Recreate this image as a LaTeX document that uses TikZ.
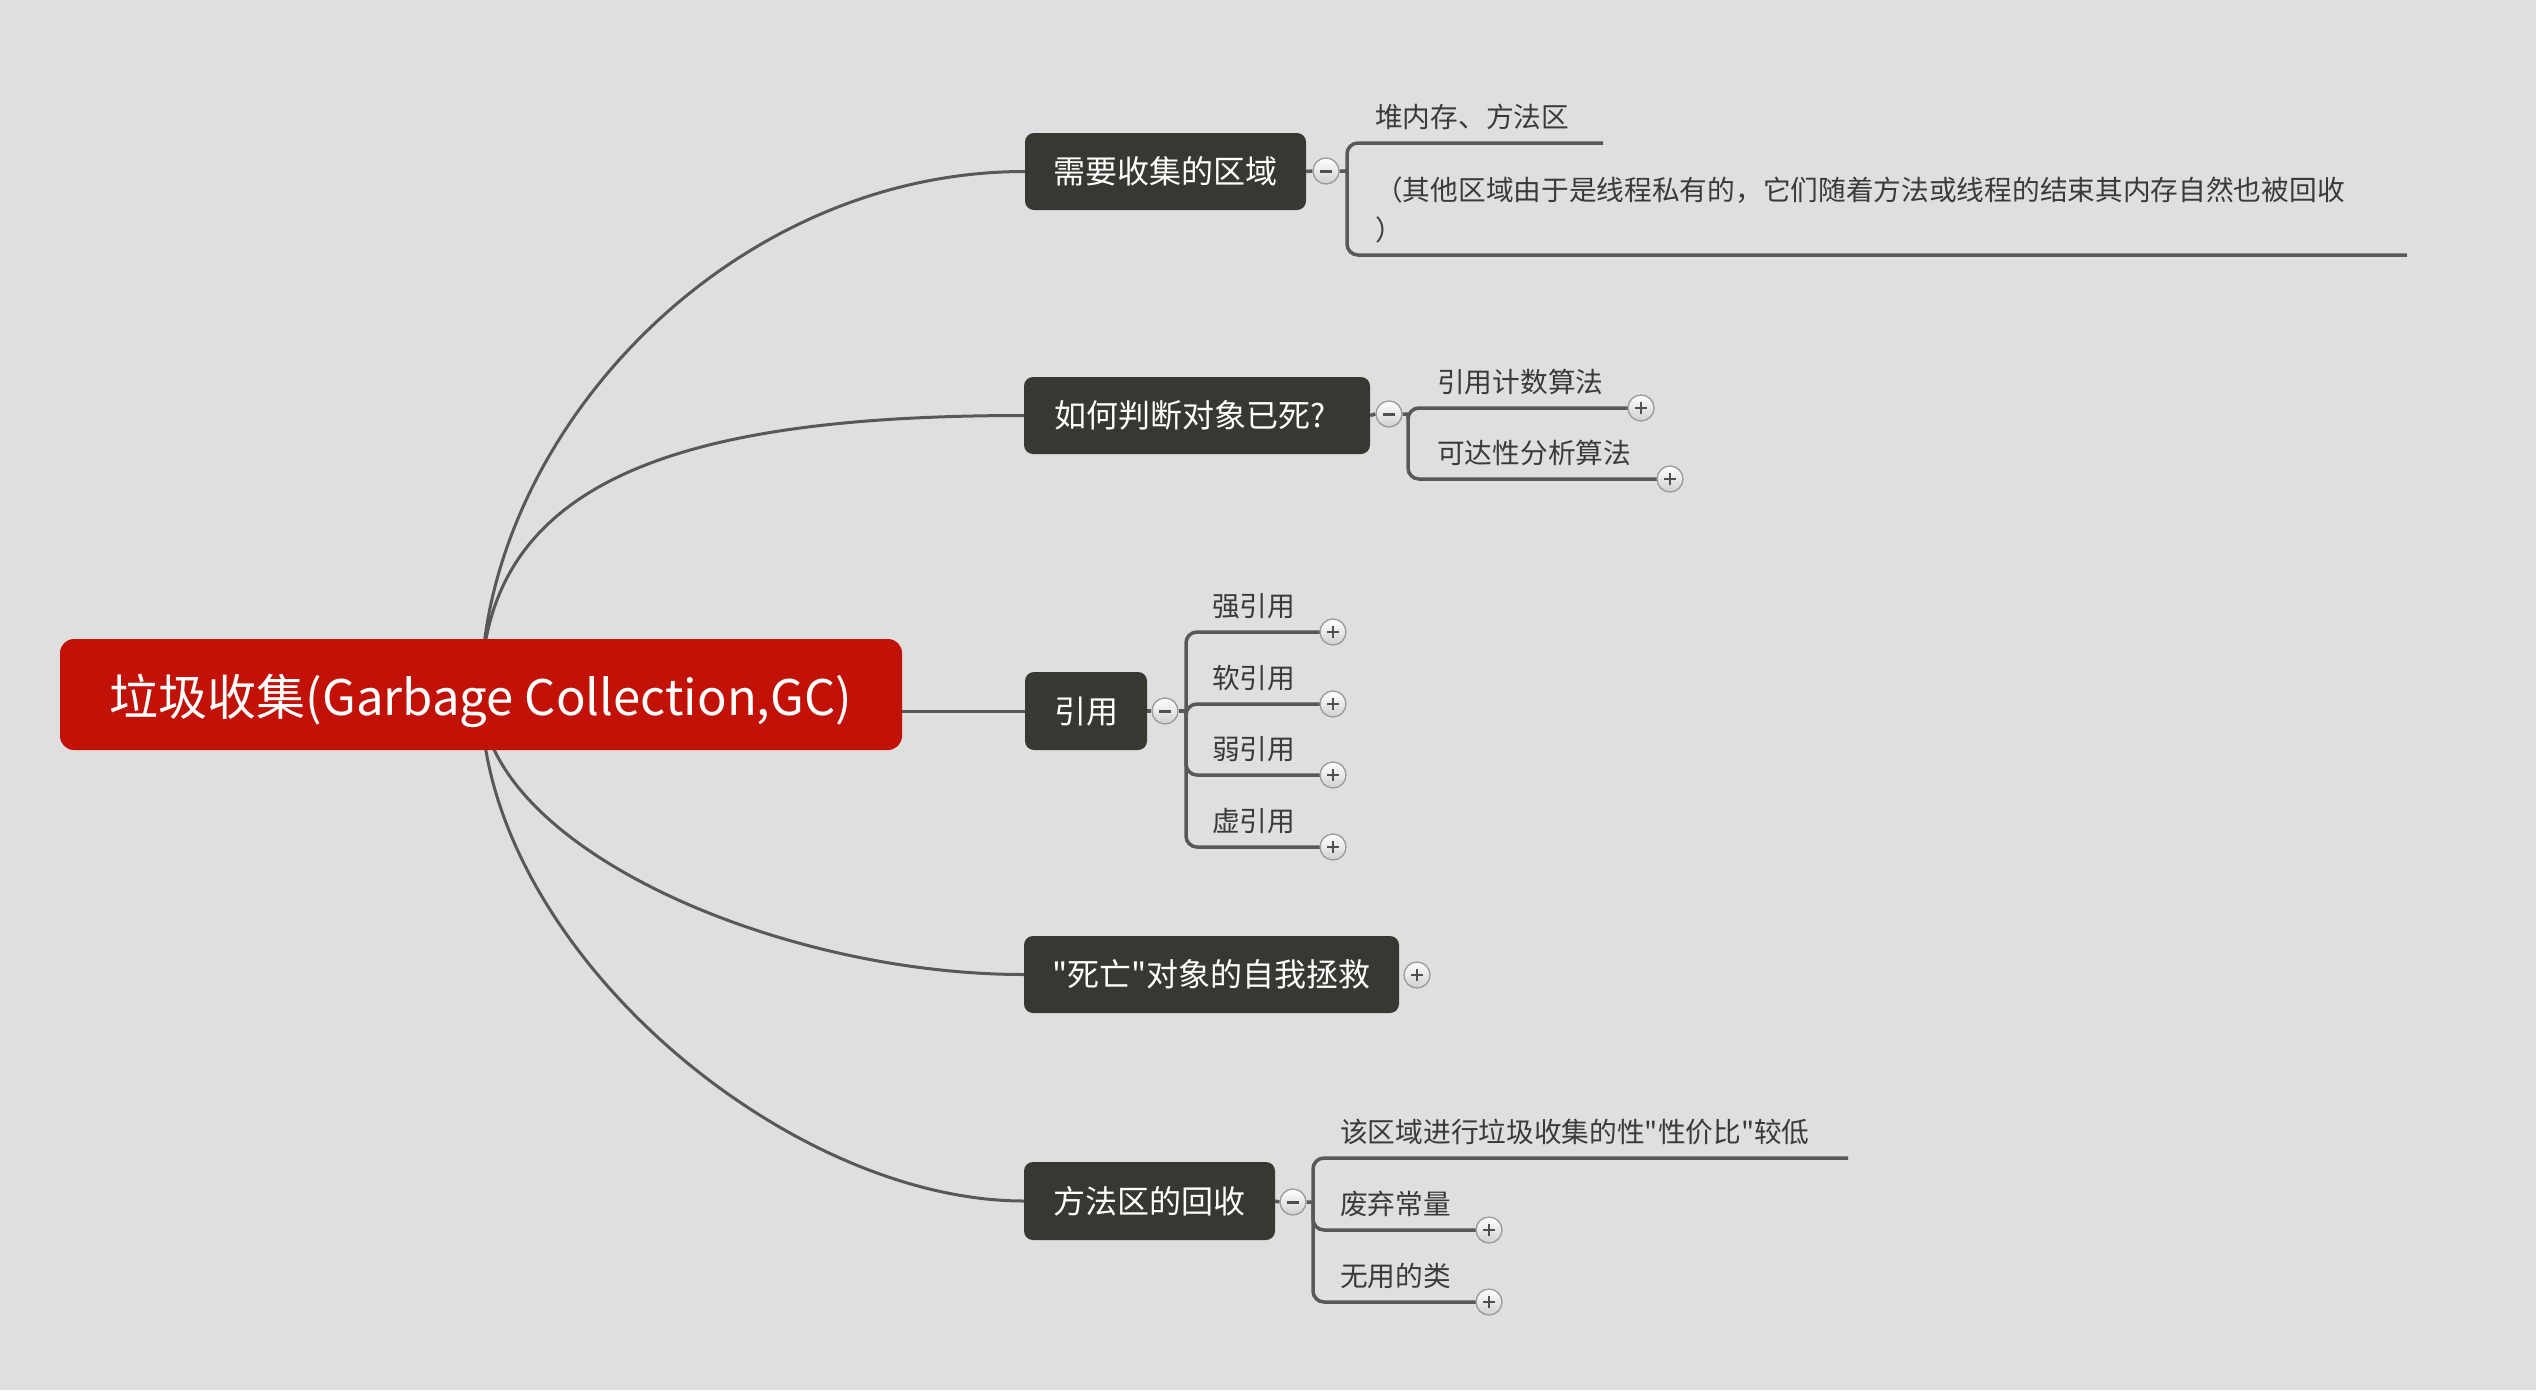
\documentclass[tikz,border=0pt]{standalone}
\usepackage{fontspec}
\newfontfamily\cjkface{Noto Sans CJK SC}
\usetikzlibrary{calc}
\definecolor{bgc}{HTML}{DFDFDF}
\definecolor{rootc}{HTML}{C21107}
\definecolor{branchc}{HTML}{383833}
\definecolor{linec}{HTML}{585858}
\definecolor{txtc}{HTML}{3A3A3A}
\definecolor{btnb}{HTML}{9A9A9A}
\definecolor{btnf}{HTML}{D0D0D0}
\definecolor{signc}{HTML}{505050}
\pgfdeclarelayer{bglayer}
\pgfdeclarelayer{edgelayer}
\pgfsetlayers{bglayer,edgelayer,main}
\begin{document}
\begin{tikzpicture}[x=1pt,y=-1pt,
  rootbox/.style={fill=rootc, rounded corners=14pt, text=white, minimum width=842pt, minimum height=111pt, inner sep=0pt, font=\cjkface\fontsize{49}{58}\selectfont, text height=48pt, text depth=6pt},
  branchbox/.style={fill=branchc, rounded corners=9pt, text=white, minimum height=77pt, inner sep=0pt, font=\cjkface\fontsize{32}{38}\selectfont, text height=28pt, text depth=4pt},
  childtext/.style={anchor=base west, inner sep=0pt, text=txtc, font=\cjkface\fontsize{27.7}{40}\selectfont},
  trunk/.style={draw=linec, line width=3pt},
  limb/.style={draw=linec, line width=3.5pt, rounded corners=11pt},
  stub/.style={draw=linec, line width=3.5pt},
  btn/.style={circle, draw=btnb, line width=1.3pt, top color=white, bottom color=btnf, minimum size=26pt, inner sep=0pt},
  minusbtn/.style={btn, path picture={\draw[line width=3pt, signc] ([xshift=-6pt]path picture bounding box.center) -- ([xshift=6pt]path picture bounding box.center);}},
  plusbtn/.style={btn, path picture={\draw[line width=2.8pt, signc] ([xshift=-6pt]path picture bounding box.center) -- ([xshift=6pt]path picture bounding box.center) ([yshift=-6pt]path picture bounding box.center) -- ([yshift=6pt]path picture bounding box.center);}},
]
\useasboundingbox (0,0) rectangle (2536,1390);
\begin{pgfonlayer}{bglayer}
\fill[bgc] (0,0) rectangle (2536,1390);
\end{pgfonlayer}

% root and branches
\node[rootbox] (root) at (481,694.5) {垃圾收集(Garbage Collection,GC)};
\node[branchbox, minimum width=281pt] (n1) at (1165.5,171.5) {需要收集的区域};
\node[branchbox, minimum width=346pt, text width=286pt, align=left] (n2) at (1197,415.5) {如何判断对象已死?};
\node[branchbox, minimum width=122pt, minimum height=78pt] (n3) at (1086,711) {引用};
\node[branchbox, minimum width=375pt] (n4) at (1211.5,974.5) {"死亡"对象的自我拯救};
\node[branchbox, minimum width=251pt, minimum height=78pt] (n5) at (1149.5,1201) {方法区的回收};

% collapse / expand buttons
\node[minusbtn] (m1) at (1326,171) {};
\node[minusbtn] (m2) at (1389,414) {};
\node[minusbtn] (m3) at (1165,711) {};
\node[plusbtn]  (m4) at (1417,975) {};
\node[minusbtn] (m5) at (1293,1202) {};

% bracket junctions
\coordinate (b1) at (1347,171);
\coordinate (b2) at (1408,414);
\coordinate (b3) at (1186,711);
\coordinate (b5) at (1313,1202);

% underline ends
\coordinate (e11) at (1603,143);
\coordinate (e12) at (2407,255);
\node[plusbtn] (p21) at (1641,408) {};
\node[plusbtn] (p22) at (1670,479) {};
\node[plusbtn] (p31) at (1333,632) {};
\node[plusbtn] (p32) at (1333,704) {};
\node[plusbtn] (p33) at (1333,775) {};
\node[plusbtn] (p34) at (1333,847) {};
\coordinate (e51) at (1848,1158);
\node[plusbtn] (p52) at (1489,1230) {};
\node[plusbtn] (p53) at (1489,1302) {};

% child texts
\node[childtext] (c11) at (1375,127) {堆内存、方法区};
\node[childtext, align=left] (c12) at (1375,240) {（其他区域由于是线程私有的，它们随着方法或线程的结束其内存自然也被回收\\）};
\node[childtext] (c21) at (1437,392) {引用计数算法};
\node[childtext] (c22) at (1437,463) {可达性分析算法};
\node[childtext] (c31) at (1212,616) {强引用};
\node[childtext] (c32) at (1212,688) {软引用};
\node[childtext] (c33) at (1212,759) {弱引用};
\node[childtext] (c34) at (1212,831) {虚引用};
\node[childtext] (c51) at (1340,1142) {该区域进行垃圾收集的性"性价比"较低};
\node[childtext] (c52) at (1340,1214) {废弃常量};
\node[childtext] (c53) at (1340,1286) {无用的类};

\begin{pgfonlayer}{edgelayer}
% main connectors
\draw[trunk] (root.center) .. controls +(0,-255) and +(-300,0) .. (n1.west);
\draw[trunk] (root.center) .. controls +(0,-215) and +(-344,0) .. (n2.west);
\draw[trunk] (root.east |- n3.west) -- (n3.west);
\draw[trunk] (root.center) .. controls +(0,150) and +(-250,0) .. (n4.west);
\draw[trunk] (root.center) .. controls +(0,250) and +(-240,0) .. (n5.west);
% stubs to buttons
\draw[stub] (n1.east) -- (m1.west) (m1.east) -- (b1);
\draw[stub] (n2.east) -- (m2.west) (m2.east) -- (b2);
\draw[stub] (n3.east) -- (m3.west) (m3.east) -- (b3);
\draw[stub] (n5.east) -- (m5.west) (m5.east) -- (b5);
% brackets with underlines
\draw[limb] (b1) |- (e11);
\draw[limb] (b1) |- (e12);
\draw[limb] (b2) |- (p21.center);
\draw[limb] (b2) |- (p22.center);
\draw[limb] (b3) |- (p31.center);
\draw[limb] (b3) |- (p32.center);
\draw[limb] (b3) |- (p33.center);
\draw[limb] (b3) |- (p34.center);
\draw[limb] (b5) |- (e51);
\draw[limb] (b5) |- (p52.center);
\draw[limb] (b5) |- (p53.center);
\end{pgfonlayer}
\end{tikzpicture}
\end{document}
